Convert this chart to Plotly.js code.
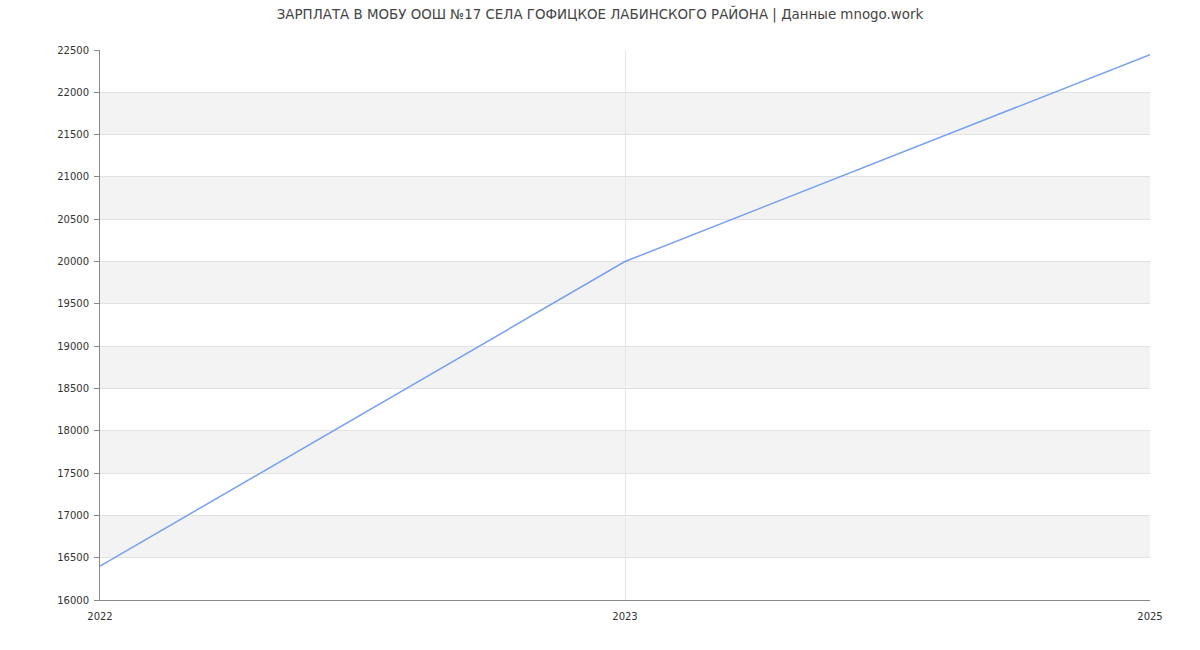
<!DOCTYPE html>
<html>
<head>
<meta charset="utf-8">
<script src="https://cdn.plot.ly/plotly-3.0.1.min.js"></script>
<style>html,body{margin:0;padding:0;background:#fff;}#chart{width:1200px;height:650px;}</style>
</head>
<body>
<div id="chart"></div>
<script>
var years = ['2022', '2023', '2025'];
var salary = [16400, 20000, 22445];
var yTicks = [16000, 16500, 17000, 17500, 18000, 18500, 19000, 19500, 20000, 20500, 21000, 21500, 22000, 22500];
var titleText = 'ЗАРПЛАТА В МОБУ ООШ №17 СЕЛА ГОФИЦКОЕ ЛАБИНСКОГО РАЙОНА | Данные mnogo.work';

var shapes = [];
for (var i = 1; i + 1 < yTicks.length; i += 2) {
  shapes.push({type: 'rect', xref: 'paper', yref: 'y', x0: 0, x1: 1,
    y0: yTicks[i], y1: yTicks[i + 1], fillcolor: '#f3f3f3', line: {width: 0}, layer: 'below'});
}

var trace = {
  x: years, y: salary, type: 'scatter', mode: 'lines',
  line: {color: '#76a0f2', width: 1.5}, hoverinfo: 'x+y'
};

var layout = {
  width: 1200, height: 650,
  margin: {l: 100, r: 50, t: 50, b: 50},
  paper_bgcolor: '#fff', plot_bgcolor: '#fff',
  font: {family: 'DejaVu Sans, sans-serif', size: 11, color: '#333'},
  title: {text: titleText, x: 0.5, xanchor: 'center', y: 0.985, yanchor: 'top',
    font: {family: 'DejaVu Sans, sans-serif', size: 13.4, color: '#444'}},
  showlegend: false,
  shapes: shapes,
  xaxis: {
    type: 'category', range: [0, 2], tickvals: years, ticktext: years,
    showgrid: true, gridcolor: '#e6e6e6', gridwidth: 1,
    showline: true, linecolor: '#888', linewidth: 1,
    ticks: '', ticklabelstandoff: 7, tickfont: {size: 10, color: '#333'}, zeroline: false, fixedrange: true
  },
  yaxis: {
    range: [16000, 22500], tickvals: yTicks, ticktext: yTicks.map(String),
    showgrid: true, gridcolor: '#e2e2e2', gridwidth: 1,
    showline: true, linecolor: '#888', linewidth: 1,
    ticks: 'outside', ticklen: 5, tickcolor: '#888', ticklabelstandoff: 3,
    tickfont: {size: 10, color: '#333'}, zeroline: false, fixedrange: true
  }
};

Plotly.newPlot('chart', [trace], layout, {displayModeBar: false, staticPlot: true});
</script>
</body>
</html>
